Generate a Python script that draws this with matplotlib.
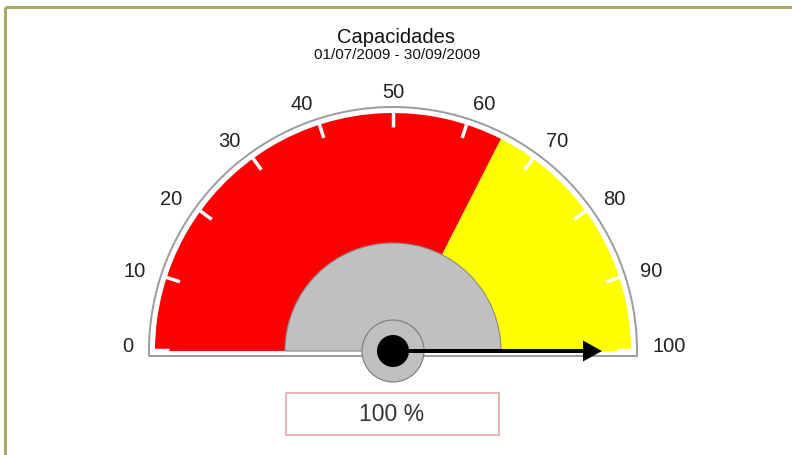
import numpy as np
import matplotlib
matplotlib.use("Agg")
import matplotlib.pyplot as plt
from matplotlib.patches import Wedge, Circle, Rectangle, FancyArrow

# ---- data ----
title = "Capacidades"
subtitle = "01/07/2009 - 30/09/2009"
gauge_value = 100
band_starts = [0, 65]
band_ends = [65, 100]
band_colors = ["#ff0000", "#ffff00"]
tick_values = list(range(0, 101, 10))
tick_labels = [str(v) for v in tick_values]
value_label = f"{gauge_value} %"

plt.rcParams['font.family'] = ['Liberation Sans', 'DejaVu Sans']

W, H = 792, 456
fig = plt.figure(figsize=(W / 100, H / 100), dpi=100)
ax = fig.add_axes([0, 0, 1, 1])
ax.set_xlim(0, W)
ax.set_ylim(0, H)
ax.axis('off')

def py(y):  # pixel y (top-down) to axis y
    return H - y

cx, cy = 393, py(352)
R_band = 238
R_outline = 244
R_inner = 108

def ang(v):
    return 180 - v / 100 * 180

# frame
ax.plot([5, 5], [0, py(8)], color="#a8a868", lw=2.2, solid_capstyle='butt')
ax.plot([5, W], [py(8), py(8)], color="#a8a868", lw=2.2, solid_capstyle='butt')

# bands
for s, e, c in zip(band_starts, band_ends, band_colors):
    ax.add_patch(Wedge((cx, cy), R_band, ang(e), ang(s), facecolor=c, edgecolor='none', zorder=2))

# ticks
for v in tick_values:
    a = np.radians(ang(v))
    r0, r1 = 224, 241
    x0, y0 = cx + r0 * np.cos(a), cy + r0 * np.sin(a)
    x1, y1 = cx + r1 * np.cos(a), cy + r1 * np.sin(a)
    if v in (0, 100):
        y0 += 1.5; y1 += 1.5
    ax.plot([x0, x1], [y0, y1], color='white', lw=2.5, zorder=3, solid_capstyle='butt')

# outline arc + baseline
th = np.linspace(0, np.pi, 300)
ax.plot(cx + R_outline * np.cos(th), cy + R_outline * np.sin(th), color="#9a9ca4", lw=1.4, zorder=4)
base_y = py(357)
ax.plot([cx - R_outline, cx - R_outline, cx + R_outline, cx + R_outline],
        [cy, base_y, base_y, cy], color="#9a9ca4", lw=1.4, zorder=4)

# labels
R_lab = 260
for v, lab in zip(tick_values, tick_labels):
    a = np.radians(ang(v))
    c, s = np.cos(a), np.sin(a)
    x, y = cx + R_lab * c, cy + R_lab * s
    if c < -0.1:
        ha = 'right'
    elif c > 0.1:
        ha = 'left'
    else:
        ha = 'center'
    if v in (0, 100):
        y += 5
    ax.text(x, y, lab, ha=ha, va='center', fontsize=14.5, color='#222222', zorder=5)

# inner hub
ax.add_patch(Wedge((cx, cy), R_inner, 0, 180, facecolor="#c0c0c0", edgecolor="#8a8a8a", lw=0.8, zorder=5))

# needle
a = np.radians(ang(gauge_value))
L = 209
ax.add_patch(FancyArrow(cx, cy, L * np.cos(a), L * np.sin(a), width=4, head_width=21,
                        head_length=19, length_includes_head=True,
                        facecolor='black', edgecolor='none', zorder=7))
ax.add_patch(Circle((cx, cy), 31, facecolor="#c0c0c0", edgecolor="#7a7a7a", lw=0.8, zorder=6))
ax.add_patch(Circle((cx, cy), 16, facecolor="black", edgecolor='none', zorder=8))

# value box
ax.add_patch(Rectangle((286, py(436)), 213, 42, facecolor='white', edgecolor="#e4a8a8", lw=1.2, zorder=5))
ax.text(392, py(415), value_label, ha='center', va='center', fontsize=16.5, color='#333333', zorder=6)

# titles
ax.text(396, py(37), title, ha='center', va='center', fontsize=14.5, color='#111111')
ax.text(397, py(55), subtitle, ha='center', va='center', fontsize=11, color='#111111')

fig.savefig("out.png", dpi=100)
